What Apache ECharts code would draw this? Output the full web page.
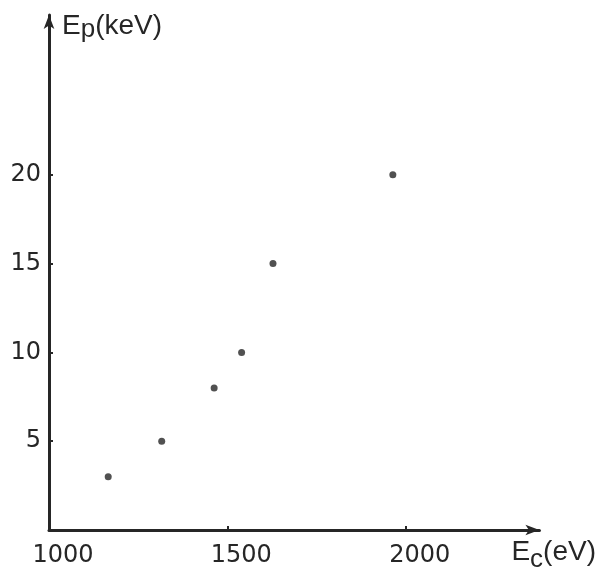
<!DOCTYPE html>
<html><head><meta charset="utf-8">
<script src="https://cdn.jsdelivr.net/npm/echarts@6/dist/echarts.min.js"></script>
<style>html,body{margin:0;padding:0;background:#fff}#c{width:599px;height:573px}</style>
</head><body><div id="c"></div>
<script>
const ecValues = [1166, 1316, 1463, 1540, 1628, 1964];
const epValues = [3, 5, 8, 10, 15, 20];
const xTickLabels = [1000, 1500, 2000];
const yTickLabels = [5, 10, 15, 20];
const xName = '{m|E}{xs|c}{m|(eV)}';
const yName = '{m|E}{ys|p}{m|(keV)}';

const ink = '#262626';
const nameFont = 'Liberation Sans';
const tickFont = 'DejaVu Sans';
const chart = echarts.init(document.getElementById('c'), null, {renderer: 'canvas'});
const nameRich = {
  m: {fontSize: 28, lineHeight: 30, fontFamily: nameFont, color: ink, verticalAlign: 'top'},
  xs: {fontSize: 26, lineHeight: 30, fontFamily: nameFont, color: ink, verticalAlign: 'top', padding: [9, 0, 0, 0]},
  ys: {fontSize: 26, lineHeight: 30, fontFamily: nameFont, color: ink, verticalAlign: 'top', padding: [5, 0, 0, 0]}
};
chart.setOption({
  animation: false,
  backgroundColor: '#fff',
  grid: {left: 49, right: 59, top: 15, bottom: 42},
  xAxis: {
    type: 'value', min: 1000, max: 2375, interval: 500,
    name: xName, nameLocation: 'end', nameGap: -28,
    nameTextStyle: {fontSize: 28, fontFamily: nameFont, color: ink, align: 'left', verticalAlign: 'top', padding: [8, 0, 0, 0], rich: nameRich},
    axisLine: {show: true, lineStyle: {color: ink, width: 3}, symbol: ['none', 'arrow'], symbolSize: [8, 14]},
    axisTick: {show: true, inside: true, length: 4, lineStyle: {color: ink, width: 2}, customValues: xTickLabels.slice(1)},
    axisLabel: {customValues: xTickLabels, formatter: v => String(v), fontSize: 24, fontFamily: tickFont, color: ink, margin: 14, padding: [0, 0, 0, 28]},
    splitLine: {show: false}
  },
  yAxis: {
    type: 'value', min: 0, max: 29, interval: 5,
    name: yName, nameLocation: 'end', nameGap: -27,
    nameTextStyle: {fontSize: 28, fontFamily: nameFont, color: ink, align: 'left', padding: [0, 0, 0, 13], rich: nameRich},
    axisLine: {show: true, lineStyle: {color: ink, width: 3}, symbol: ['none', 'arrow'], symbolSize: [8, 14]},
    axisTick: {show: true, inside: true, length: 4, lineStyle: {color: ink, width: 2}, customValues: yTickLabels},
    axisLabel: {customValues: yTickLabels, formatter: v => String(v), fontSize: 24, fontFamily: tickFont, color: ink, margin: 8},
    splitLine: {show: false}
  },
  series: [{
    type: 'scatter',
    data: ecValues.map((v, i) => [v, epValues[i]]),
    symbol: 'circle', symbolSize: 7,
    itemStyle: {color: ink}
  }]
});
</script></body></html>
